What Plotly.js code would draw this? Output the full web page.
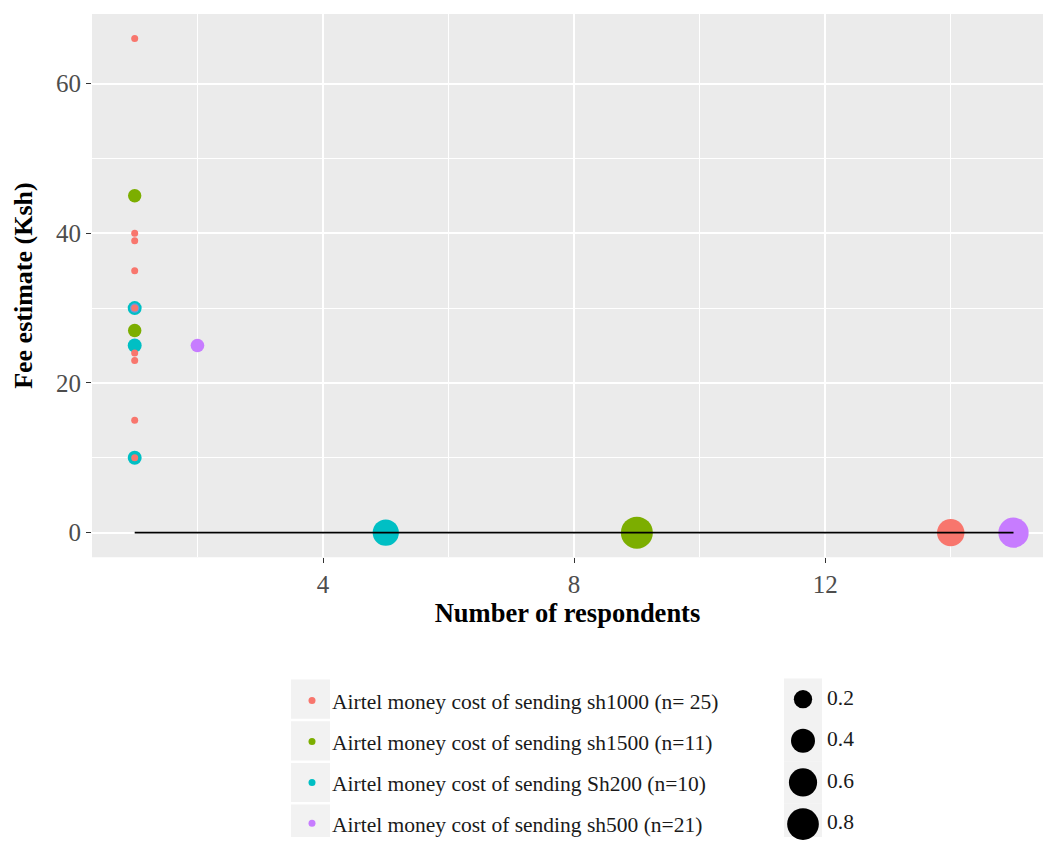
<!DOCTYPE html>
<html><head><meta charset="utf-8">
<script src="https://cdn.plot.ly/plotly-3.0.1.min.js"></script>
<style>
html,body{margin:0;padding:0;background:#fff;width:1043px;height:844px;overflow:hidden}
#chart{position:absolute;left:0;top:0;width:1043px;height:844px}
</style>
</head><body><div id="chart"></div>
<script>
// ---------------- data ----------------
const seriesNames = [
  'Airtel money cost of sending sh1000 (n= 25)',
  'Airtel money cost of sending sh1500 (n=11)',
  'Airtel money cost of sending Sh200 (n=10)',
  'Airtel money cost of sending sh500 (n=21)'
];
const seriesN = [25, 11, 10, 21];
const seriesColors = ['#F8766D', '#7CAE00', '#00BFC4', '#C77CFF'];

// number of respondents (x) giving each fee estimate (y)
const sh1000Respondents = [14, 1, 1, 1, 1, 1, 1, 1, 1, 1];
const sh1000Fees        = [0, 66, 40, 39, 35, 30, 24, 23, 15, 10];
const sh1500Respondents = [9, 1, 1];
const sh1500Fees        = [0, 45, 27];
const sh200Respondents  = [5, 1, 1, 1];
const sh200Fees         = [0, 30, 25, 10];
const sh500Respondents  = [15, 2, 1];
const sh500Fees         = [0, 25, 30];

const zeroLineX = [1, 15];
const zeroLineY = [0, 0];

const sizeBreaks = [0.2, 0.4, 0.6, 0.8];
const xTicks = [4, 8, 12];
const yTicks = [0, 20, 40, 60];

// ---------------- helpers ----------------
const seriesX = [sh1000Respondents, sh1500Respondents, sh200Respondents, sh500Respondents];
const seriesY = [sh1000Fees, sh1500Fees, sh200Fees, sh500Fees];
const props = seriesX.map((xs, i) => xs.map(v => v / seriesN[i]));
const allP = props.flat();
const pMin = Math.min(...allP), pMax = Math.max(...allP);
function sizeScale(p) {           // ggplot-like area scale -> diameter px
  const t = Math.max(0, Math.min(1, (p - pMin) / (pMax - pMin)));
  return 7 + 25 * Math.sqrt(t);
}
const SERIF = 'Liberation Serif, Times New Roman, serif';

// drawing order (later on top): green, cyan, purple, red
const drawOrder = [1, 2, 3, 0];
const traces = [];
drawOrder.forEach(i => {
  const op = seriesX[i].map((v, k) => (i === 3 && seriesY[i][k] === 30) ? 0.5 : 1);
  traces.push({
    type: 'scatter', mode: 'markers', xaxis: 'x', yaxis: 'y',
    x: seriesX[i], y: seriesY[i],
    marker: { color: seriesColors[i], size: props[i].map(sizeScale), opacity: op, line: { width: 0 } },
    showlegend: false, legendgroup: 'g' + i, hoverinfo: 'x+y'
  });
});
// black line at zero
traces.push({
  type: 'scatter', mode: 'lines', x: zeroLineX, y: zeroLineY, xaxis: 'x', yaxis: 'y',
  line: { color: '#000', width: 1.8 }, showlegend: false, hoverinfo: 'skip'
});
// colour legend entries
seriesNames.forEach((name, i) => {
  traces.push({
    type: 'scatter', mode: 'markers', x: [null], y: [null], xaxis: 'x', yaxis: 'y',
    name: name, legendgroup: 'g' + i, showlegend: true,
    marker: { color: seriesColors[i], size: 7, opacity: 1 }
  });
});
// size legend (manual, on its own axes)
const KEY_X = 23, LABEL_X = 47;
traces.push({
  type: 'scatter', mode: 'markers', xaxis: 'x2', yaxis: 'y2', cliponaxis: false,
  x: sizeBreaks.map(() => KEY_X), y: sizeBreaks.map((b, i) => i),
  marker: { color: '#000', size: sizeBreaks.map(sizeScale), opacity: 1, line: { width: 0 } },
  showlegend: false, hoverinfo: 'skip'
});
traces.push({
  type: 'scatter', mode: 'text', xaxis: 'x2', yaxis: 'y2', cliponaxis: false,
  x: sizeBreaks.map(() => LABEL_X), y: sizeBreaks.map((b, i) => i),
  text: sizeBreaks.map(b => b.toFixed(1)), textposition: 'middle right',
  textfont: { family: SERIF, size: 21.5, color: '#1a1a1a' },
  showlegend: false, hoverinfo: 'skip'
});

// key background boxes
const shapes = [];
sizeBreaks.forEach((b, i) => {
  shapes.push({ type: 'rect', xref: 'paper', yref: 'y2', x0: 291/1043, x1: 330/1043,
    y0: i - 0.47, y1: i + 0.47, fillcolor: '#F2F2F2', line: { width: 0 }, layer: 'below' });
  shapes.push({ type: 'rect', xref: 'x2', yref: 'y2', x0: KEY_X - 19, x1: KEY_X + 19,
    y0: i - 0.5, y1: i + 0.5, fillcolor: '#F2F2F2', line: { width: 0 }, layer: 'below' });
});

const W = 1043, H = 844;
const ROW0 = 705, PITCH = 42;
const layout = {
  width: W, height: H,
  margin: { l: 0, r: 0, t: 0, b: 0 },
  paper_bgcolor: '#fff', plot_bgcolor: '#fff',
  showlegend: true,
  font: { family: SERIF, color: '#1a1a1a' },
  xaxis: {
    domain: [92 / W, 1], anchor: 'y',
    range: [0.32, 15.47], tickvals: xTicks, ticktext: xTicks.map(String),
    ticks: 'outside', ticklen: 5, tickwidth: 1.2, tickcolor: '#333',
    tickfont: { family: SERIF, size: 25, color: '#4D4D4D' },
    showgrid: true, gridcolor: '#fff', gridwidth: 1.6, zeroline: false, showline: false,
    minor: { tickvals: [2, 6, 10, 14], showgrid: true, gridcolor: '#fff', gridwidth: 0.7, ticks: '' },
    title: { text: '<b>Number of respondents</b>', font: { family: SERIF, size: 26.5, color: '#000' }, standoff: 5 }
  },
  yaxis: {
    domain: [(H - 562) / H, (H - 14) / H], anchor: 'x',
    range: [-3.3, 69.3], tickvals: yTicks, ticktext: yTicks.map(String),
    ticks: 'outside', ticklen: 5, tickwidth: 1.2, tickcolor: '#333',
    tickfont: { family: SERIF, size: 25, color: '#4D4D4D' },
    showgrid: true, gridcolor: '#fff', gridwidth: 1.6, zeroline: false, showline: false,
    minor: { tickvals: [10, 30, 50], showgrid: true, gridcolor: '#fff', gridwidth: 0.7, ticks: '' },
    title: { text: '<b>Fee estimate (Ksh)</b>', font: { family: SERIF, size: 26, color: '#000' }, standoff: 15 }
  },
  xaxis2: {
    domain: [780 / W, 900 / W], anchor: 'y2', range: [0, 120],
    visible: false, fixedrange: true
  },
  yaxis2: {
    domain: [0, (H - 684) / H], anchor: 'x2',
    range: [(H - ROW0) / PITCH, (684 - ROW0) / PITCH],
    visible: false, fixedrange: true
  },
  legend: {
    x: 292 / W, xanchor: 'left', y: 1 - 686 / H, yanchor: 'top',
    bgcolor: 'rgba(0,0,0,0)', borderwidth: 0,
    font: { family: SERIF, size: 21.5, color: '#1a1a1a' },
    itemsizing: 'trace', tracegroupgap: 10, traceorder: 'grouped', itemclick: false
  },
  shapes: [
    { type: 'rect', xref: 'x domain', yref: 'y domain', x0: 0, x1: 1, y0: 0, y1: 1,
      fillcolor: '#EBEBEB', line: { width: 0 }, layer: 'below' }
  ].concat(shapes)
};
Plotly.newPlot('chart', traces, layout, { displayModeBar: false });
</script>
</body></html>
